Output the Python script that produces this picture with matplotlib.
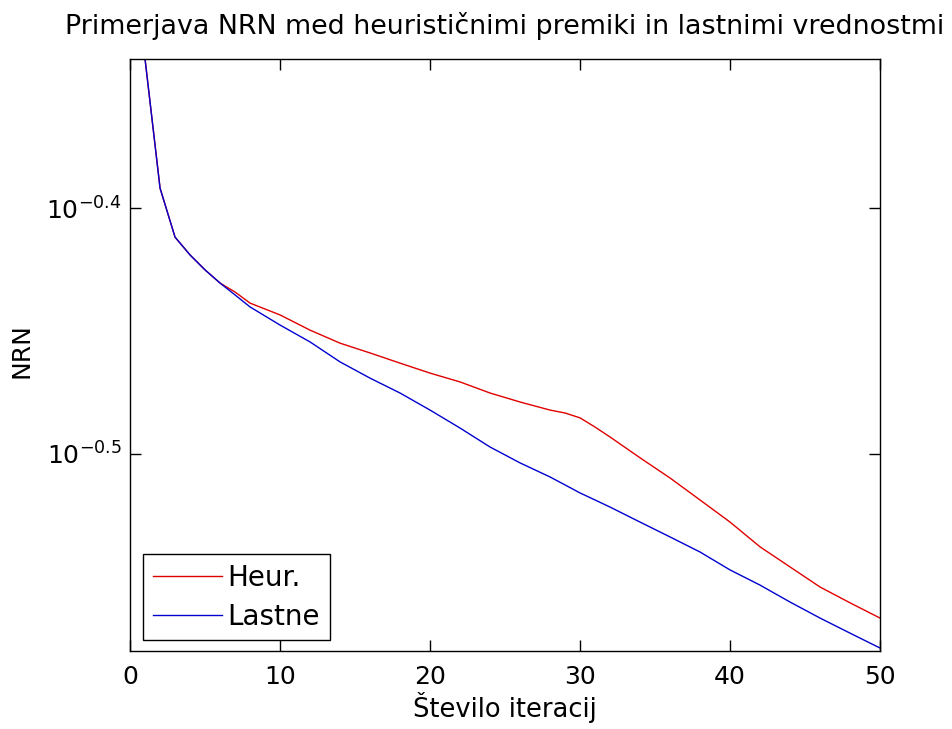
import matplotlib.pyplot as plt
from matplotlib.ticker import FixedLocator, NullLocator

plt.rcParams['font.family'] = ['DejaVu Sans']
plt.rcParams['mathtext.fontset'] = 'dejavusans'

# Data
iters = [1, 2, 3, 4, 5, 6, 7, 8, 10, 12, 14, 16, 18, 20, 22, 24, 26, 28,
         29, 30, 31, 32, 34, 36, 38, 40, 42, 44, 46, 48, 50]
nrn_heur = [0.4577, 0.4056, 0.3874, 0.3810, 0.3757, 0.3711, 0.3680, 0.3642,
            0.3602, 0.3551, 0.3508, 0.3476, 0.3443, 0.3411, 0.3383, 0.3348,
            0.3320, 0.3295, 0.3286, 0.3271, 0.3243, 0.3213, 0.3151, 0.3092,
            0.3029, 0.2967, 0.2899, 0.2845, 0.2792, 0.2751, 0.2712]
nrn_lastne = [0.4577, 0.4056, 0.3874, 0.3810, 0.3757, 0.3711, 0.3670, 0.3629,
              0.3568, 0.3512, 0.3447, 0.3395, 0.3348, 0.3295, 0.3240, 0.3183,
              0.3136, 0.3095, 0.3072, 0.3049, 0.3029, 0.3009, 0.2967, 0.2926,
              0.2885, 0.2837, 0.2797, 0.2753, 0.2712, 0.2674, 0.2637]

x_ticks = [0, 10, 20, 30, 40, 50]
y_ticks = [10 ** -0.5, 10 ** -0.4]
y_tick_labels = [r'$10^{-0.5}$', r'$10^{-0.4}$']

fig = plt.figure(figsize=(9.52, 7.29), dpi=100)
ax = fig.add_axes([0.1366, 0.1070, 0.7878, 0.8121])

ax.plot(iters, nrn_heur, color='#e00000', linewidth=1.0, label='Heur.')
ax.plot(iters, nrn_lastne, color='#0000d0', linewidth=1.0, label='Lastne')

ax.set_yscale('log')
ax.set_xlim(0, 50)
ax.set_ylim(10 ** -0.5801, 10 ** -0.3394)

ax.xaxis.set_major_locator(FixedLocator(x_ticks))
ax.set_xticklabels([str(t) for t in x_ticks])
ax.yaxis.set_major_locator(FixedLocator(y_ticks))
ax.yaxis.set_minor_locator(NullLocator())
ax.set_yticklabels(y_tick_labels)

ax.tick_params(direction='in', length=8, width=1, top=True, right=True,
               labelsize=18)
ax.tick_params(axis='x', pad=10)
ax.tick_params(axis='y', pad=6)
for sp in ax.spines.values():
    sp.set_linewidth(1.0)

ax.set_title('Primerjava NRN med heurističnimi premiki in lastnimi vrednostmi',
             fontsize=19.4, pad=18)
ax.set_xlabel('Število iteracij', fontsize=18.5, labelpad=2)
ax.set_ylabel('NRN', fontsize=18)
ax.yaxis.set_label_coords(-0.129, 0.507)

leg = ax.legend(loc='lower left', bbox_to_anchor=(0.017, 0.018), fontsize=20,
                fancybox=False, framealpha=1, edgecolor='black',
                handlelength=2.5, handletextpad=0.2, borderpad=0.35,
                labelspacing=0.4, borderaxespad=0)
leg.get_frame().set_linewidth(1.0)

plt.savefig('out.png', dpi=100)
